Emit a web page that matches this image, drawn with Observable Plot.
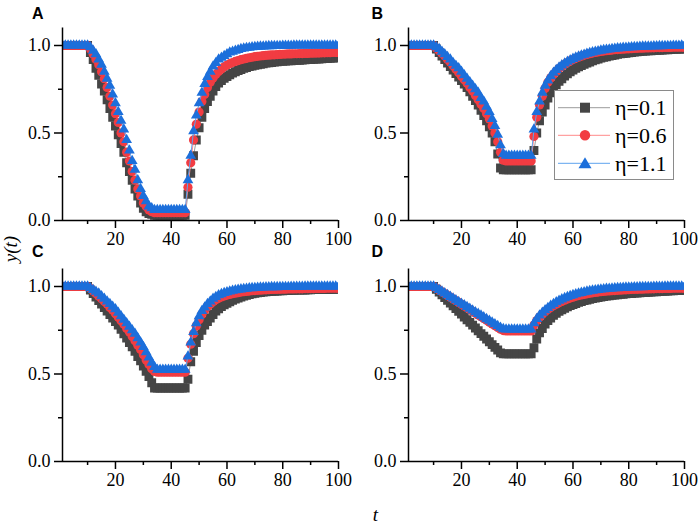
<!DOCTYPE html>
<html>
<head>
<meta charset="utf-8">
<script src="https://cdn.jsdelivr.net/npm/d3@7"></script>
<script src="https://cdn.jsdelivr.net/npm/@observablehq/plot@0.6"></script>
<style>
  body { margin: 0; background: white; }
  #fig { position: relative; width: 699px; height: 525px; background: white; overflow: hidden; }
  .panel { position: absolute; }
  .panel text { font-family: 'Liberation Serif'; }
  #overlay { position: absolute; left: 0; top: 0; pointer-events: none; }
</style>
</head>
<body>
<div id="fig"></div>
<script>
// ---- data ----
const seriesNames = ["η=0.1", "η=0.6", "η=1.1"];
const panelLabels = ["A", "B", "C", "D"];
const xMajorTicks = [20, 40, 60, 80, 100];
const xMinorTicks = [10, 30, 50, 70, 90];
const yMajorTicks = [0, 0.5, 1.0];
const yMinorTicks = [0.25, 0.75];

const aGray = [1,1,1,1,1,1,1,1,1,1,
0.96,0.92,0.87,0.83,0.78,0.74,0.69,0.64,0.59,0.54,
0.49,0.44,0.39,0.33,0.28,0.23,0.18,0.14,0.10,0.07,
0.05,0.04,0.035,0.03,0.03,0.03,0.03,0.03,0.03,0.03,
0.03,0.03,0.03,0.03,0.03,0.15,0.27,0.37,0.46,0.53,
0.59,0.64,0.68,0.71,0.74,0.765,0.785,0.80,0.812,0.823,
0.833,0.842,0.85,0.857,0.863,0.869,0.874,0.879,0.883,0.887,
0.89,0.893,0.896,0.899,0.901,0.903,0.905,0.907,0.909,0.91,
0.911,0.912,0.913,0.914,0.915,0.916,0.917,0.918,0.919,0.92,
0.921,0.922,0.923,0.924,0.925,0.926,0.927,0.928,0.929,0.93];
const aRed = [1,1,1,1,1,1,1,1,1,1,
0.98,0.95,0.92,0.89,0.85,0.81,0.76,0.71,0.66,0.61,
0.56,0.50,0.45,0.39,0.34,0.28,0.23,0.18,0.14,0.10,
0.08,0.06,0.05,0.045,0.045,0.045,0.045,0.045,0.045,0.045,
0.045,0.045,0.045,0.045,0.045,0.19,0.33,0.46,0.55,0.62,
0.68,0.72,0.76,0.79,0.815,0.835,0.852,0.866,0.878,0.888,
0.896,0.903,0.909,0.914,0.919,0.923,0.927,0.93,0.933,0.936,
0.938,0.94,0.942,0.944,0.945,0.946,0.947,0.948,0.949,0.95,
0.951,0.952,0.952,0.953,0.953,0.954,0.954,0.955,0.955,0.956,
0.956,0.957,0.957,0.958,0.958,0.959,0.959,0.96,0.96,0.96];
const aBlue = [1,1,1,1,1,1,1,1,1,1,
0.99,0.97,0.95,0.92,0.89,0.85,0.81,0.77,0.72,0.67,
0.62,0.57,0.52,0.46,0.40,0.34,0.29,0.23,0.18,0.14,
0.11,0.08,0.07,0.06,0.06,0.06,0.06,0.06,0.06,0.06,
0.06,0.06,0.06,0.06,0.06,0.23,0.37,0.51,0.60,0.67,
0.73,0.78,0.82,0.85,0.88,0.90,0.92,0.93,0.94,0.95,
0.96,0.965,0.97,0.975,0.98,0.983,0.986,0.988,0.99,0.992,
0.993,0.994,0.995,0.996,0.997,0.997,0.998,0.998,0.998,0.999,
0.999,0.999,0.999,1,1,1,1,1,1,1,
1,1,1,1,1,1,1,1,1,1];

const bGray = [1,1,1,1,1,1,1,1,1,1,
0.98,0.96,0.94,0.92,0.90,0.88,0.86,0.84,0.82,0.80,
0.78,0.76,0.735,0.71,0.685,0.66,0.63,0.60,0.57,0.535,
0.50,0.45,0.38,0.30,0.29,0.29,0.29,0.29,0.29,0.29,
0.29,0.29,0.29,0.29,0.29,0.40,0.50,0.57,0.62,0.66,
0.70,0.73,0.755,0.775,0.795,0.81,0.825,0.838,0.85,0.86,
0.87,0.878,0.886,0.893,0.90,0.906,0.912,0.918,0.923,0.928,
0.932,0.936,0.94,0.943,0.946,0.949,0.952,0.954,0.956,0.958,
0.96,0.962,0.964,0.965,0.967,0.968,0.969,0.97,0.971,0.972,
0.973,0.974,0.975,0.976,0.977,0.978,0.978,0.979,0.979,0.98];
const bRed = [1,1,1,1,1,1,1,1,1,1,
0.985,0.97,0.955,0.94,0.92,0.905,0.885,0.865,0.845,0.825,
0.805,0.785,0.76,0.74,0.715,0.69,0.665,0.64,0.61,0.58,
0.54,0.50,0.45,0.39,0.345,0.34,0.34,0.34,0.34,0.34,
0.34,0.34,0.34,0.34,0.34,0.48,0.59,0.66,0.71,0.755,
0.79,0.815,0.835,0.853,0.868,0.881,0.893,0.903,0.912,0.92,
0.927,0.933,0.939,0.944,0.949,0.953,0.957,0.96,0.963,0.966,
0.968,0.97,0.972,0.974,0.976,0.977,0.978,0.979,0.98,0.981,
0.982,0.983,0.984,0.985,0.985,0.986,0.986,0.987,0.987,0.988,
0.988,0.988,0.989,0.989,0.989,0.99,0.99,0.99,0.99,0.99];
const bBlue = [1,1,1,1,1,1,1,1,1,1,
0.99,0.98,0.965,0.95,0.935,0.92,0.90,0.885,0.87,0.85,
0.83,0.81,0.79,0.77,0.75,0.73,0.70,0.68,0.65,0.62,
0.58,0.54,0.49,0.43,0.38,0.37,0.37,0.37,0.37,0.37,
0.37,0.37,0.37,0.37,0.37,0.52,0.62,0.68,0.73,0.77,
0.80,0.825,0.845,0.86,0.875,0.887,0.898,0.908,0.916,0.924,
0.931,0.937,0.943,0.948,0.953,0.957,0.961,0.965,0.968,0.971,
0.974,0.976,0.978,0.98,0.982,0.984,0.985,0.987,0.988,0.989,
0.99,0.991,0.992,0.993,0.994,0.994,0.995,0.995,0.996,0.996,
0.997,0.997,0.998,0.998,0.998,0.999,0.999,0.999,1,1];

const cGray = [1,1,1,1,1,1,1,1,1,1,
0.98,0.96,0.94,0.92,0.90,0.88,0.86,0.84,0.82,0.80,
0.78,0.755,0.73,0.705,0.68,0.655,0.63,0.60,0.575,0.545,
0.515,0.485,0.45,0.42,0.42,0.42,0.42,0.42,0.42,0.42,
0.42,0.42,0.42,0.42,0.42,0.47,0.57,0.63,0.68,0.72,
0.75,0.78,0.80,0.82,0.84,0.86,0.873,0.885,0.895,0.904,
0.913,0.921,0.928,0.934,0.94,0.945,0.95,0.954,0.958,0.961,
0.964,0.966,0.968,0.97,0.971,0.972,0.973,0.974,0.975,0.976,
0.977,0.977,0.978,0.978,0.979,0.979,0.98,0.98,0.981,0.981,
0.982,0.982,0.982,0.983,0.983,0.983,0.984,0.984,0.984,0.985];
const cRed = [1,1,1,1,1,1,1,1,1,1,
0.99,0.975,0.96,0.945,0.93,0.915,0.90,0.88,0.865,0.845,
0.825,0.805,0.785,0.76,0.74,0.715,0.69,0.665,0.64,0.61,
0.58,0.555,0.53,0.515,0.51,0.51,0.51,0.51,0.51,0.51,
0.51,0.51,0.51,0.51,0.51,0.59,0.67,0.73,0.775,0.81,
0.84,0.865,0.885,0.90,0.913,0.924,0.933,0.94,0.946,0.951,
0.955,0.959,0.962,0.965,0.968,0.97,0.972,0.974,0.976,0.977,
0.978,0.979,0.98,0.981,0.982,0.983,0.983,0.984,0.984,0.985,
0.985,0.986,0.986,0.986,0.987,0.987,0.987,0.988,0.988,0.988,
0.988,0.989,0.989,0.989,0.989,0.99,0.99,0.99,0.99,0.99];
const cBlue = [1,1,1,1,1,1,1,1,1,1,
0.99,0.98,0.97,0.96,0.945,0.93,0.915,0.90,0.885,0.87,
0.85,0.83,0.81,0.79,0.77,0.75,0.73,0.705,0.68,0.655,
0.625,0.595,0.565,0.54,0.525,0.525,0.525,0.525,0.525,0.525,
0.525,0.525,0.525,0.525,0.525,0.60,0.68,0.74,0.79,0.83,
0.86,0.88,0.90,0.915,0.93,0.94,0.95,0.957,0.963,0.968,
0.972,0.976,0.979,0.982,0.984,0.986,0.988,0.99,0.991,0.992,
0.993,0.994,0.995,0.996,0.996,0.997,0.997,0.997,0.998,0.998,
0.998,0.998,0.999,0.999,0.999,0.999,0.999,1,1,1,
1,1,1,1,1,1,1,1,1,1];

const dGray = [1,1,1,1,1,1,1,1,1,1,
0.984,0.968,0.953,0.937,0.921,0.905,0.889,0.874,0.858,0.842,
0.826,0.81,0.795,0.779,0.763,0.747,0.731,0.716,0.70,0.684,
0.668,0.652,0.637,0.621,0.615,0.615,0.615,0.615,0.615,0.615,
0.615,0.615,0.615,0.615,0.615,0.65,0.70,0.735,0.76,0.785,
0.805,0.82,0.835,0.847,0.858,0.867,0.876,0.884,0.891,0.897,
0.903,0.909,0.914,0.919,0.923,0.927,0.931,0.934,0.937,0.94,
0.943,0.945,0.947,0.949,0.951,0.953,0.955,0.956,0.958,0.959,
0.96,0.962,0.963,0.964,0.965,0.966,0.967,0.968,0.969,0.97,
0.971,0.972,0.973,0.974,0.975,0.976,0.977,0.977,0.978,0.978];
const dRed = [1,1,1,1,1,1,1,1,1,1,
0.99,0.98,0.97,0.96,0.949,0.939,0.929,0.919,0.909,0.898,
0.888,0.878,0.868,0.858,0.847,0.837,0.827,0.817,0.807,0.796,
0.786,0.776,0.766,0.756,0.748,0.746,0.746,0.746,0.746,0.746,
0.746,0.746,0.746,0.746,0.746,0.78,0.805,0.825,0.841,0.856,
0.869,0.88,0.89,0.899,0.907,0.915,0.922,0.928,0.934,0.939,
0.944,0.948,0.952,0.955,0.958,0.961,0.964,0.966,0.968,0.97,
0.972,0.974,0.975,0.976,0.977,0.978,0.979,0.98,0.981,0.982,
0.983,0.984,0.984,0.985,0.985,0.986,0.986,0.987,0.987,0.988,
0.988,0.988,0.989,0.989,0.989,0.99,0.99,0.99,0.99,0.99];
const dBlue = [1,1,1,1,1,1,1,1,1,1,
0.99,0.98,0.971,0.961,0.951,0.941,0.932,0.922,0.912,0.902,
0.893,0.883,0.873,0.863,0.853,0.844,0.834,0.824,0.814,0.805,
0.795,0.785,0.775,0.765,0.757,0.755,0.755,0.755,0.755,0.755,
0.755,0.755,0.755,0.755,0.755,0.79,0.815,0.835,0.85,0.865,
0.878,0.89,0.90,0.91,0.919,0.927,0.934,0.94,0.946,0.951,
0.956,0.96,0.964,0.968,0.971,0.974,0.977,0.979,0.981,0.983,
0.985,0.987,0.988,0.989,0.99,0.991,0.992,0.993,0.994,0.995,
0.995,0.996,0.996,0.997,0.997,0.998,0.998,0.998,0.999,0.999,
0.999,0.999,1,1,1,1,1,1,1,1];

const tValues = d3.range(1, 101);

// ---- styling ----
const colors = { dot: ["#454545", "#f23c42", "#1c6fdb"], line: ["#9c9c9c", "#ff8a8a", "#5ea3ee"] };
const symbols = ["square", "circle", "triangle"];
const radii = [5, 4.6, 4.0];
const SERIF = "Liberation Serif";
const SANS = "Liberation Sans";

function makePanel(arrs) {
  const marks = [];
  arrs.forEach((arr, k) => {
    const rows = tValues.map((t, i) => ({ t, y: arr[i] }));
    marks.push(Plot.line(rows, { x: "t", y: "y", stroke: colors.line[k], strokeWidth: 1, clip: true }));
    marks.push(Plot.dot(rows, { x: "t", y: "y", symbol: symbols[k], r: radii[k], fill: colors.dot[k], stroke: "none", clip: true }));
  });
  marks.push(
    Plot.ruleX([1], { stroke: "black", strokeWidth: 1.5 }),
    Plot.ruleY([0], { stroke: "black", strokeWidth: 1.5 }),
    Plot.axisX({ ticks: xMajorTicks, tickSize: 8, tickPadding: 4, strokeWidth: 1.5, label: null, fontSize: 18, fontFamily: SERIF, tickFormat: d => String(d) }),
    Plot.axisX({ ticks: xMinorTicks, tickSize: 4, strokeWidth: 1.5, label: null, tickFormat: () => "" }),
    Plot.axisY({ ticks: yMajorTicks, tickSize: 8, tickPadding: 4, strokeWidth: 1.5, label: null, fontSize: 18, fontFamily: SERIF, tickFormat: d3.format(".1f") }),
    Plot.axisY({ ticks: yMinorTicks, tickSize: 4, strokeWidth: 1.5, label: null, tickFormat: () => "" })
  );
  return Plot.plot({
    width: 349, height: 262,
    marginLeft: 62, marginRight: 11, marginTop: 27.5, marginBottom: 42,
    x: { domain: [1, 100] },
    y: { domain: [0, 1.1] },
    style: { fontFamily: SERIF, fontSize: "18px", color: "black", background: "transparent", overflow: "visible" },
    marks
  });
}

const fig = document.getElementById("fig");
const panelData = [[aGray, aRed, aBlue], [bGray, bRed, bBlue], [cGray, cRed, cBlue], [dGray, dRed, dBlue]];
const positions = [[0, 0], [346, 0], [0, 241], [346, 241]];
panelData.forEach((arrs, i) => {
  const p = makePanel(arrs);
  p.classList.add("panel");
  p.style.left = positions[i][0] + "px";
  p.style.top = positions[i][1] + "px";
  fig.appendChild(p);
});

// ---- overlay: panel letters, axis titles, legend ----
const NS = "http://www.w3.org/2000/svg";
const ov = document.createElementNS(NS, "svg");
ov.setAttribute("id", "overlay");
ov.setAttribute("width", 699);
ov.setAttribute("height", 525);
fig.appendChild(ov);
function el(tag, attrs, text) {
  const e = document.createElementNS(NS, tag);
  for (const k in attrs) e.setAttribute(k, attrs[k]);
  if (text != null) e.textContent = text;
  ov.appendChild(e);
  return e;
}
const letterPos = [[32, 18.5], [371.5, 18.5], [32, 257], [371.5, 257]];
panelLabels.forEach((L, i) => el("text", { x: letterPos[i][0], y: letterPos[i][1], "font-family": SANS, "font-weight": "bold", "font-size": 16, fill: "black" }, L));
el("text", { transform: "translate(17,249) rotate(-90)", "text-anchor": "middle", "font-family": SERIF, "font-style": "italic", "font-size": 19, fill: "black" }, "y(t)");
el("text", { x: 375.5, y: 521, "text-anchor": "middle", "font-family": SERIF, "font-style": "italic", "font-size": 19, fill: "black" }, "t");

// legend (panel B)
el("rect", { x: 554.5, y: 90.5, width: 119, height: 89, fill: "white", stroke: "#8a8a8a", "stroke-width": 1 });
const rowsY = [107.7, 135.3, 163.3];
seriesNames.forEach((name, k) => {
  const y = rowsY[k];
  el("line", { x1: 558, x2: 610, y1: y, y2: y, stroke: colors.line[k], "stroke-width": 1 });
  if (k === 0) el("rect", { x: 580, y: y - 5, width: 10, height: 10, fill: colors.dot[0] });
  else if (k === 1) el("circle", { cx: 585, cy: y, r: 5.2, fill: colors.dot[1] });
  else el("path", { d: `M585,${y - 6}L591.5,${y + 5}L578.5,${y + 5}Z`, fill: colors.dot[2] });
  el("text", { x: 615, y: y + 7.3, "font-family": SERIF, "font-size": 22, fill: "black" }, name);
});
</script>
</body>
</html>
